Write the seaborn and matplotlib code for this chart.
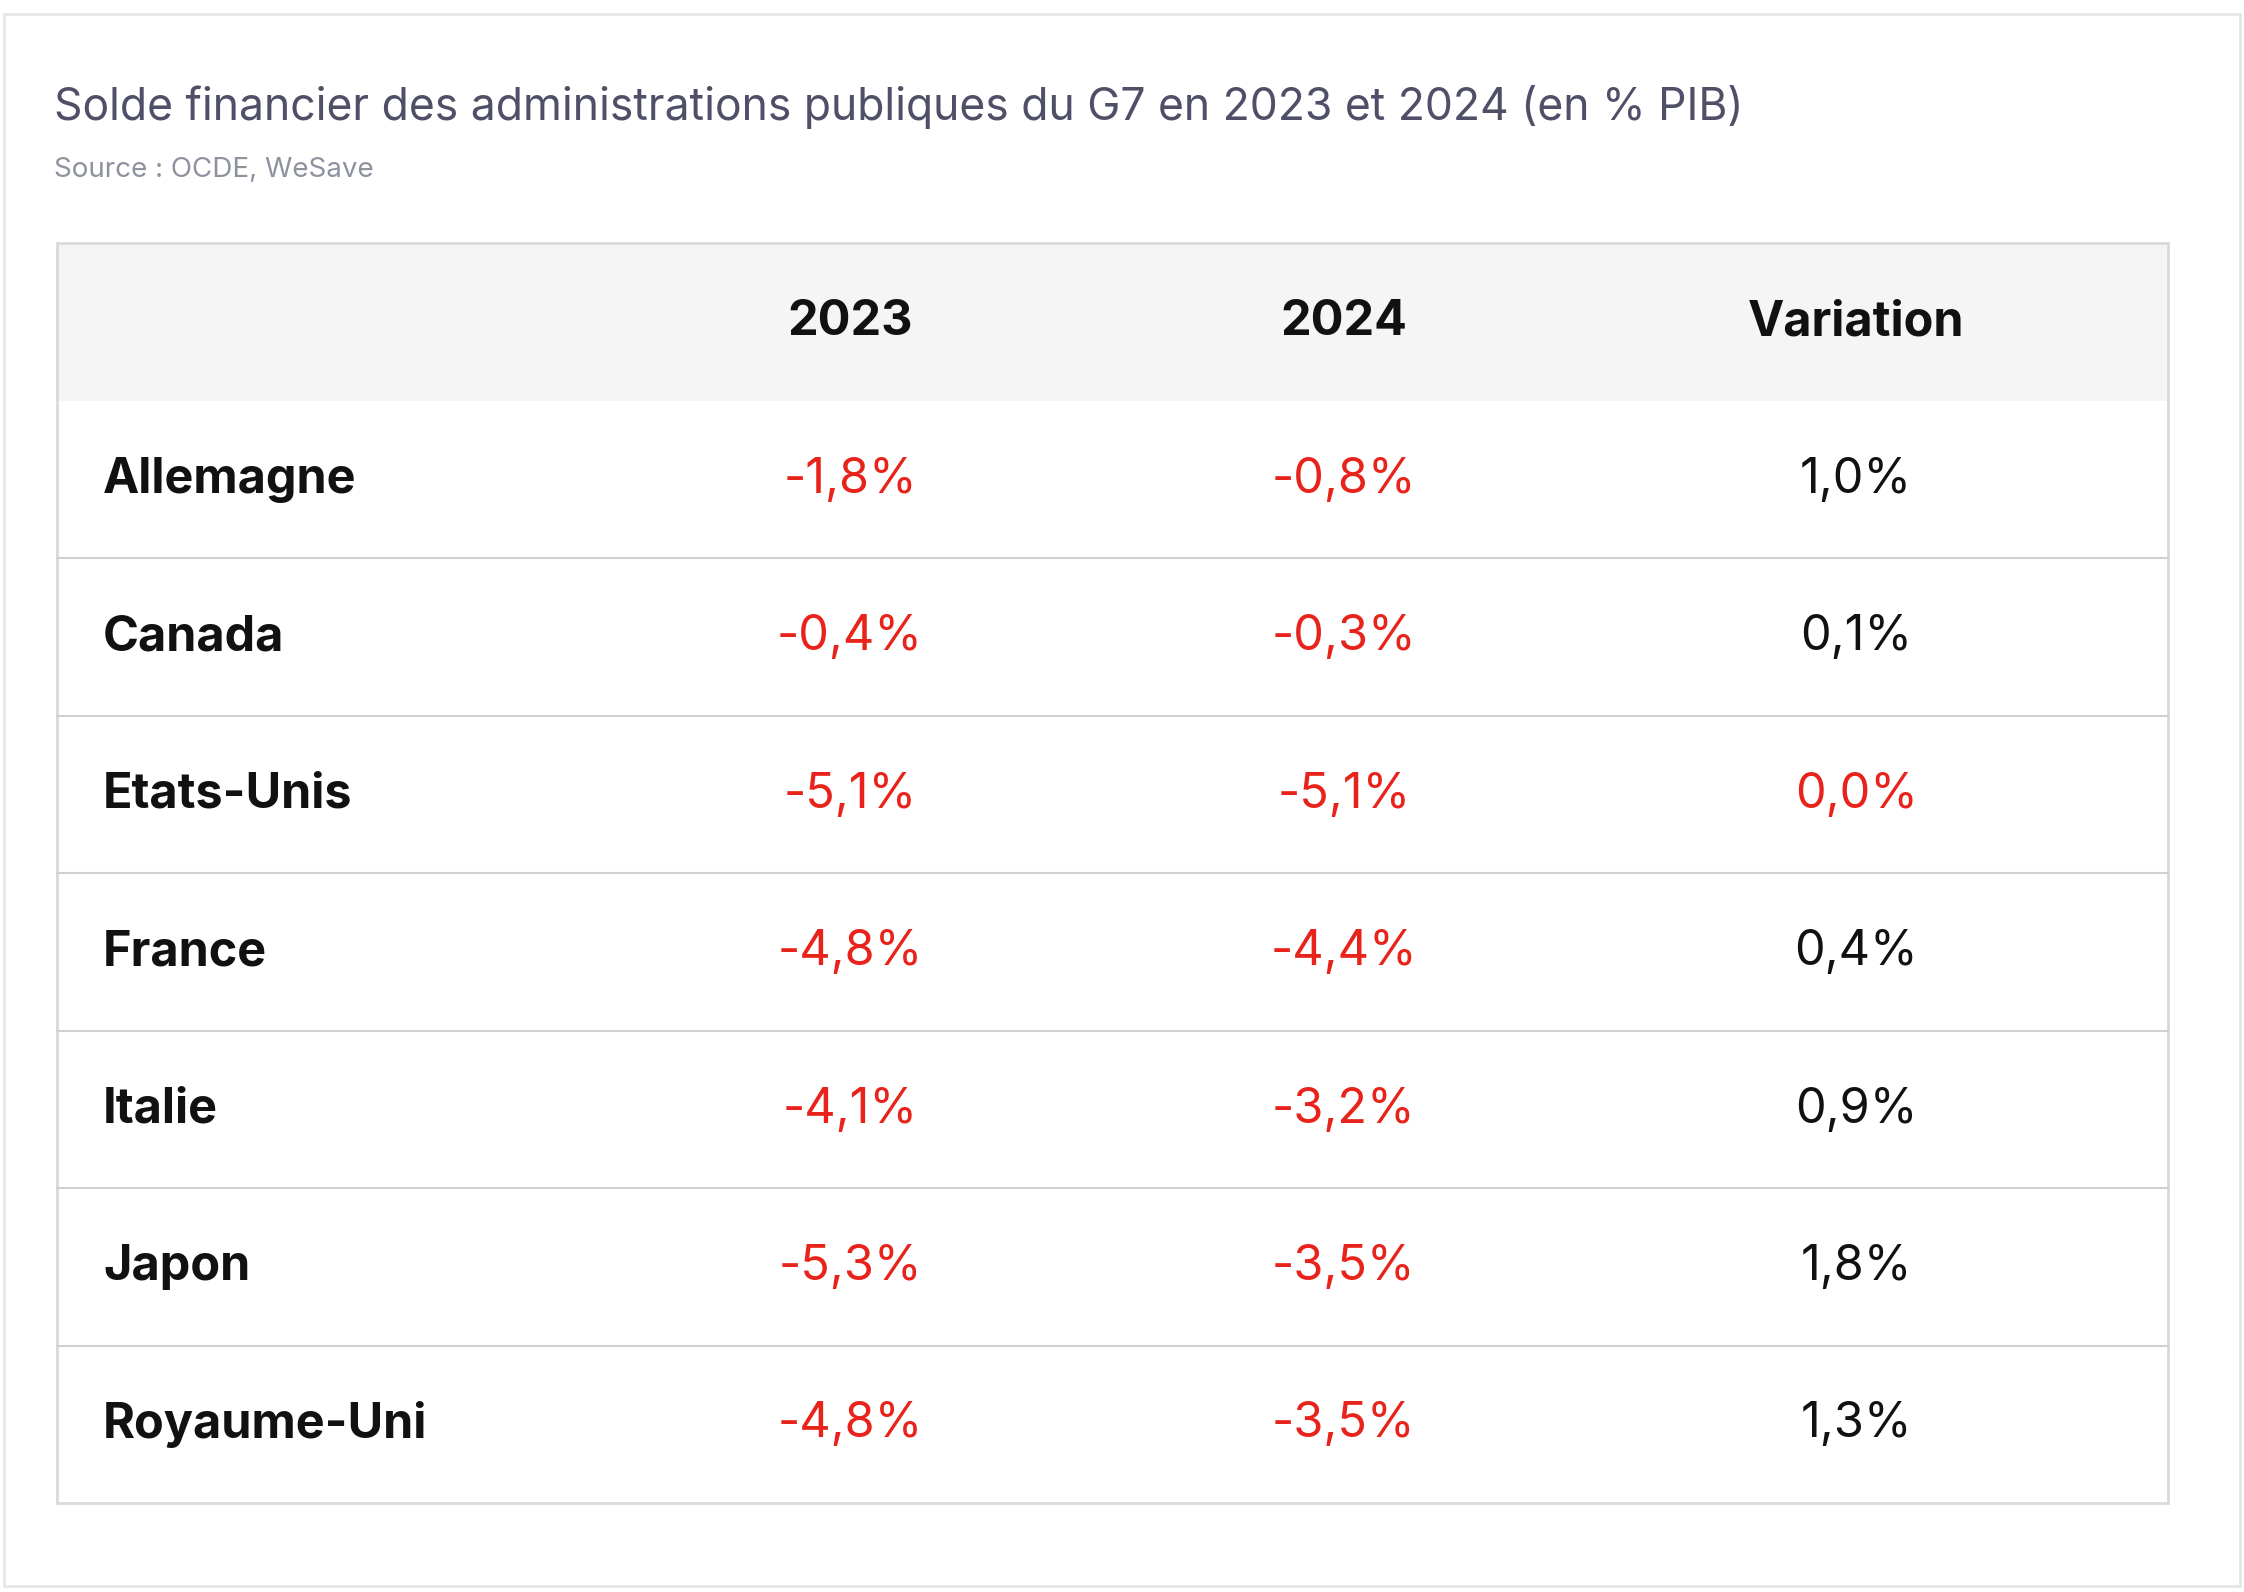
import matplotlib
matplotlib.use("Agg")
import matplotlib.pyplot as plt
import seaborn as sns
from matplotlib.patches import Rectangle

countries = ["Allemagne", "Canada", "Etats-Unis", "France", "Italie", "Japon", "Royaume-Uni"]
v2023 = [-1.8, -0.4, -5.1, -4.8, -4.1, -5.3, -4.8]
v2024 = [-0.8, -0.3, -5.1, -4.4, -3.2, -3.5, -3.5]
variation = [1.0, 0.1, 0.0, 0.4, 0.9, 1.8, 1.3]
headers = ["2023", "2024", "Variation"]
title = "Solde financier des administrations publiques du G7 en 2023 et 2024 (en % PIB)"
source = "Source : OCDE, WeSave"

sns.set_style("white")
plt.rcParams['font.family'] = ['Inter', 'DejaVu Sans']

W, H = 1568, 1112
fig = plt.figure(figsize=(22.44, 15.92), dpi=100)
ax = fig.add_axes([0, 0, 1, 1])
ax.set_xlim(0, W); ax.set_ylim(H, 0); ax.axis("off")

def fmt(v):
    return f"{v:.1f}%".replace(".", ",")

RED = "#e8231b"
ax.add_patch(Rectangle((3, 10), 1562, 1098, fill=False, ec="#e6e6e6", lw=2))
ax.text(38, 75, title, fontsize=32, color="#4f4f68", va="center")
ax.text(38, 119, source, fontsize=20, color="#8e929e", va="center")

x0, x1, top, hh, rh = 40, 1515, 170, 110, 110
ax.add_patch(Rectangle((x0, top), x1 - x0, hh, fc="#f5f5f5", ec="none"))
cols = [594, 939, 1297]
for c, h in zip(cols, headers):
    ax.text(c, top + hh / 2, h, fontsize=35, fontweight="bold", ha="center", va="center", color="#111")
for i, name in enumerate(countries):
    yc = top + hh + rh * i + rh / 2
    ax.text(72, yc, name, fontsize=35, fontweight="bold", va="center", color="#111")
    ax.text(cols[0], yc, fmt(v2023[i]), fontsize=35, ha="center", va="center", color=RED if v2023[i] <= 0 else "#111")
    ax.text(cols[1], yc, fmt(v2024[i]), fontsize=35, ha="center", va="center", color=RED if v2024[i] <= 0 else "#111")
    ax.text(cols[2], yc, fmt(variation[i]), fontsize=35, ha="center", va="center", color=RED if variation[i] <= 0 else "#111")
    if i < len(countries) - 1:
        yl = top + hh + rh * (i + 1)
        ax.plot([x0, x1], [yl, yl], color="#cfcfd4", lw=1.5)
bottom = top + hh + rh * len(countries)
ax.add_patch(Rectangle((x0, top), x1 - x0, bottom - top, fill=False, ec="#d9d9d9", lw=2))
fig.savefig("out.png", dpi=100, facecolor="white")
